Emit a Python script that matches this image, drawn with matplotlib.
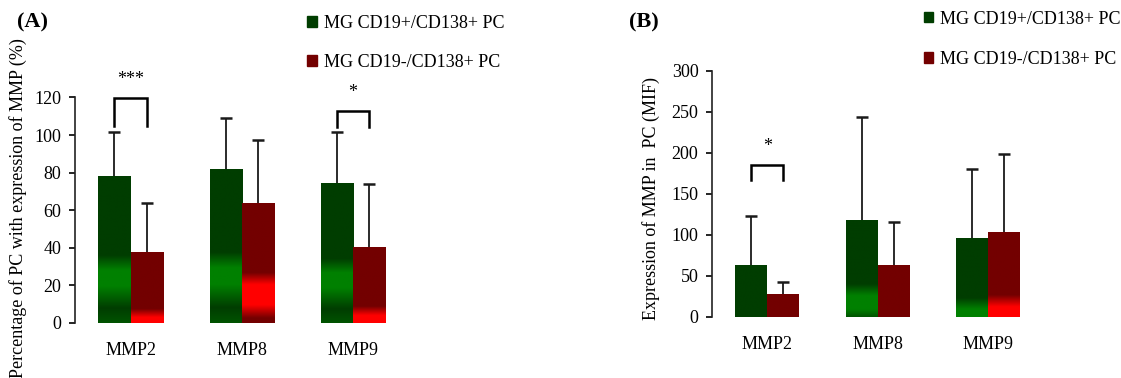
import numpy as np
import matplotlib
matplotlib.use('Agg')
import matplotlib.pyplot as plt
from matplotlib.colors import LinearSegmentedColormap
from matplotlib.patches import Patch

plt.rcParams['font.family'] = ['Liberation Serif', 'DejaVu Serif']
plt.rcParams['font.size'] = 13

categories = ['MMP2', 'MMP8', 'MMP9']
series = ['MG CD19+/CD138+ PC', 'MG CD19-/CD138+ PC']

# (A) percentage of PC expressing MMP
pct_pos = [78.2, 81.8, 74.3]
pct_pos_sd = [23.5, 27.5, 27.4]
pct_neg = [37.5, 63.8, 40.2]
pct_neg_sd = [26.5, 33.6, 33.9]
pct_sig_cat = [0, 2]
pct_sig_top = [119.6, 112.7]
pct_sig_low = [105.0, 104.4]
pct_sig_txt = ['***', '*']

# (B) MMP expression level (MIF)
mif_pos = [63.0, 118.0, 96.0]
mif_pos_sd = [60.0, 126.0, 84.0]
mif_neg = [27.7, 63.0, 103.5]
mif_neg_sd = [14.3, 52.5, 94.5]
mif_sig_cat = [0]
mif_sig_top = [185.4]
mif_sig_low = [166.7]
mif_sig_txt = ['*']

G_DK, G_MID, G_LT = '#003d00', '#005300', '#008000'
R_DK, R_LT = '#730000', '#ff0000'

# vertical colour ramps for each bar, bottom (0) to top (1)
shade_a = [
    [[(0, G_MID), (0.1, G_DK), (0.25, G_LT), (0.36, G_LT), (0.46, G_DK), (1, G_DK)]] * 3,
    [[(0, R_LT), (0.08, R_LT), (0.2, R_DK), (1, R_DK)],
     [(0, R_DK), (0.04, R_DK), (0.15, R_LT), (0.32, R_LT), (0.42, R_DK), (1, R_DK)],
     [(0, R_LT), (0.1, R_LT), (0.22, R_DK), (1, R_DK)]],
]
shade_b = [
    [[(0, G_DK), (1, G_DK)],
     [(0, G_MID), (0.08, G_LT), (0.22, G_LT), (0.34, G_DK), (1, G_DK)],
     [(0, G_LT), (0.1, G_LT), (0.24, G_DK), (1, G_DK)]],
    [[(0, R_DK), (1, R_DK)],
     [(0, R_DK), (1, R_DK)],
     [(0, R_LT), (0.12, R_LT), (0.26, R_DK), (1, R_DK)]],
]

W = 0.29
grad = np.linspace(0, 1, 256).reshape(-1, 1)


def shade(ax, rect, stops):
    x0, w, h = rect.get_x(), rect.get_width(), rect.get_height()
    cmap = LinearSegmentedColormap.from_list('ramp', stops)
    ax.imshow(grad, cmap=cmap, extent=(x0, x0 + w, 0, h), origin='lower',
              aspect='auto', interpolation='bilinear', zorder=2.1)


def panel(ax, pos, pos_sd, neg, neg_sd, shades, ymax, step,
          sig_cat, sig_top, sig_low, sig_txt):
    ind = np.arange(len(categories))
    for k, (vals, sd, col) in enumerate([(pos, pos_sd, G_DK), (neg, neg_sd, R_DK)]):
        xs = ind + (k - 0.5) * W
        rects = ax.bar(xs, vals, W, color=col, zorder=2)
        for r, st in zip(rects, shades[k]):
            shade(ax, r, st)
        eb = ax.errorbar(xs, vals, yerr=[np.zeros(len(vals)), sd], fmt='none',
                         ecolor='#1a1a1a', elinewidth=1.3, capsize=4, capthick=1.8,
                         zorder=3)
        # upper error only: hide the cap sitting on the bar top
        eb[1][0].set_visible(False)
    for c, top, low, txt in zip(sig_cat, sig_top, sig_low, sig_txt):
        x1, x2 = c - W / 2, c + W / 2
        ax.plot([x1, x1, x2, x2], [low, top, top, low], color='black', lw=1.8,
                clip_on=False, zorder=3, solid_joinstyle='miter')
        ax.annotate(txt, (c, top), xytext=(0, 10), textcoords='offset points',
                    ha='center', va='baseline', fontsize=13)
    ax.set_xlim(-0.5, 2.5)
    ax.set_ylim(0, ymax)
    ax.set_yticks(np.arange(0, ymax + 1, step))
    ax.set_xticks(ind)
    ax.set_xticklabels(categories)
    ax.tick_params(axis='x', length=0, pad=14)
    ax.tick_params(axis='y', length=4, width=1.2, pad=6, direction='out')
    for s in ['top', 'right', 'bottom']:
        ax.spines[s].set_visible(False)
    ax.spines['left'].set_linewidth(1.2)
    ax.spines['left'].set_color('#222222')


fig = plt.figure(figsize=(11.21, 3.78), dpi=100)
ax1 = fig.add_axes([0.0669, 0.1463, 0.2977, 0.5958])
ax2 = fig.add_axes([0.6354, 0.1622, 0.2949, 0.6508])

panel(ax1, pct_pos, pct_pos_sd, pct_neg, pct_neg_sd, shade_a, 120, 20,
      pct_sig_cat, pct_sig_top, pct_sig_low, pct_sig_txt)
panel(ax2, mif_pos, mif_pos_sd, mif_neg, mif_neg_sd, shade_b, 300, 50,
      mif_sig_cat, mif_sig_top, mif_sig_low, mif_sig_txt)

fig.text(18.5 / 1121, 1 - 208.5 / 378, 'Percentage of PC with expression of MMP (%)',
         rotation=90, ha='center', va='center', fontsize=13)
fig.text(651.5 / 1121, 1 - 198.5 / 378, 'Expression of MMP in  PC (MIF)',
         rotation=90, ha='center', va='center', fontsize=13)

fig.text(16.5 / 1121, 1 - 22.5 / 378, '(A)', fontsize=16, fontweight='bold',
         ha='left', va='center')
fig.text(629 / 1121, 1 - 22.5 / 378, '(B)', fontsize=16, fontweight='bold',
         ha='left', va='center')

handles = [Patch(color=G_DK), Patch(color=R_DK)]
for x0, y0, gap in [(307, 15, 1.2), (923.5, 10.5, 1.3)]:
    fig.legend(handles, series, loc='upper left',
               bbox_to_anchor=(x0 / 1121, 1 - y0 / 378), frameon=False,
               borderpad=0, borderaxespad=0, handlelength=0.53, handleheight=0.53,
               handletextpad=0.4, labelspacing=gap, fontsize=13)

plt.savefig('out.png', dpi=100)
